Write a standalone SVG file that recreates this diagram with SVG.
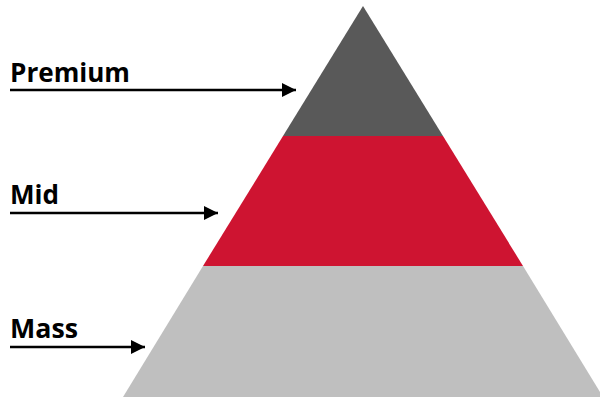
<svg xmlns="http://www.w3.org/2000/svg" width="600" height="397" viewBox="0 0 600 397">
<defs>
<style>
.lbl{font-family:"Open Sans","Liberation Sans",sans-serif;font-weight:bold;font-size:27px;fill:#000}
.arr{stroke:#000;stroke-width:2.5;fill:none}
</style>
<marker id="ah" viewBox="0 0 10 10" refX="10" refY="5" markerWidth="6" markerHeight="5.6" markerUnits="strokeWidth" orient="auto">
<path d="M0,0 L10,5 L0,10 z" fill="#000"/>
</marker>
</defs>
<rect width="600" height="397" fill="#fff"/>
<g id="premium">
<polygon points="363,6 443,136 283,136" fill="#595959"/>
<text class="lbl" x="10" y="82" textLength="120" lengthAdjust="spacingAndGlyphs">Premium</text>
</g>
<g id="mid">
<polygon points="283,136 443,136 523,266 203,266" fill="#CE1431"/>
<text class="lbl" x="10" y="204" textLength="49" lengthAdjust="spacingAndGlyphs">Mid</text>
</g>
<g id="mass">
<polygon points="203,266 523,266 603,397 123,397" fill="#BFBFBF"/>
<text class="lbl" x="10" y="338" textLength="68" lengthAdjust="spacingAndGlyphs">Mass</text>
</g>
<g id="connectors">
<line class="arr" x1="10" y1="90" x2="296" y2="90" marker-end="url(#ah)"/>
<line class="arr" x1="10" y1="213" x2="218" y2="213" marker-end="url(#ah)"/>
<line class="arr" x1="10" y1="347" x2="145" y2="347" marker-end="url(#ah)"/>
</g>
</svg>
